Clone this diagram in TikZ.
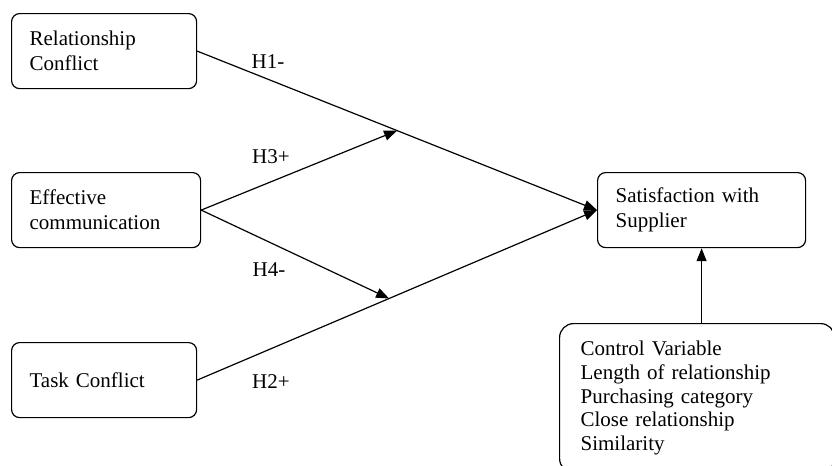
\documentclass[tikz,border=0pt]{standalone}
\usepackage{fontspec}
\setmainfont{Liberation Serif}
\usetikzlibrary{arrows.meta,calc,positioning}

\begin{document}
\begin{tikzpicture}[x=0.5pt, y=-0.5pt,
    var/.style={draw, rounded corners=4pt, line width=0.6pt, anchor=north west, minimum width=92.5pt, minimum height=37.5pt, inner xsep=9pt, text width=74.5pt, align=left, font=\fontsize{10.5pt}{12.5pt}\selectfont},
    ctrlbox/.style={draw, rounded corners=7pt, line width=0.6pt, anchor=north west, minimum width=137.5pt, minimum height=74.5pt, inner xsep=10.5pt, text width=116.5pt, align=left, font=\fontsize{10.5pt}{11.9pt}\selectfont},
    link/.style={line width=0.6pt, -{Triangle[length=6.5pt,width=5pt]}},
    hyp/.style={inner sep=0pt, font=\fontsize{10.5pt}{12.5pt}\selectfont}
  ]
  \useasboundingbox (0,0) rectangle (832,466);

  \node[var] (rc) at (11,13) {Relationship\\Conflict};
  \node[var, minimum width=94.5pt, text width=76.5pt] (ec) at (11,172) {Effective\\communication};
  \node[var] (tc) at (11,342) {Task Conflict};
  \node[var, minimum width=104pt, text width=86pt] (sat) at (597,172) {Satisfaction with\\Supplier};
  \node[ctrlbox] (ctrl) at (559,323) {Control Variable\\Length of relationship\\Purchasing category\\Close relationship\\Similarity};

  \coordinate (m1) at ($(rc.east)!0.5!(sat.west)$);
  \coordinate (m2) at ($(tc.east)!0.48!(sat.west)$);

  \draw[link] (rc.east) -- (sat.west);
  \draw[link] (tc.east) -- (sat.west);
  \draw[link] (ec.east) -- (m1);
  \draw[link] (ec.east) -- (m2);
  \draw[link] (sat.south |- ctrl.north) -- (sat.south);

  \node[hyp] (h1) at (268,62) {H1-};
  \node[hyp] (h3) at (271,157) {H3+};
  \node[hyp] (h4) at (269,270) {H4-};
  \node[hyp] (h2) at (271,382) {H2+};
\end{tikzpicture}
\end{document}
